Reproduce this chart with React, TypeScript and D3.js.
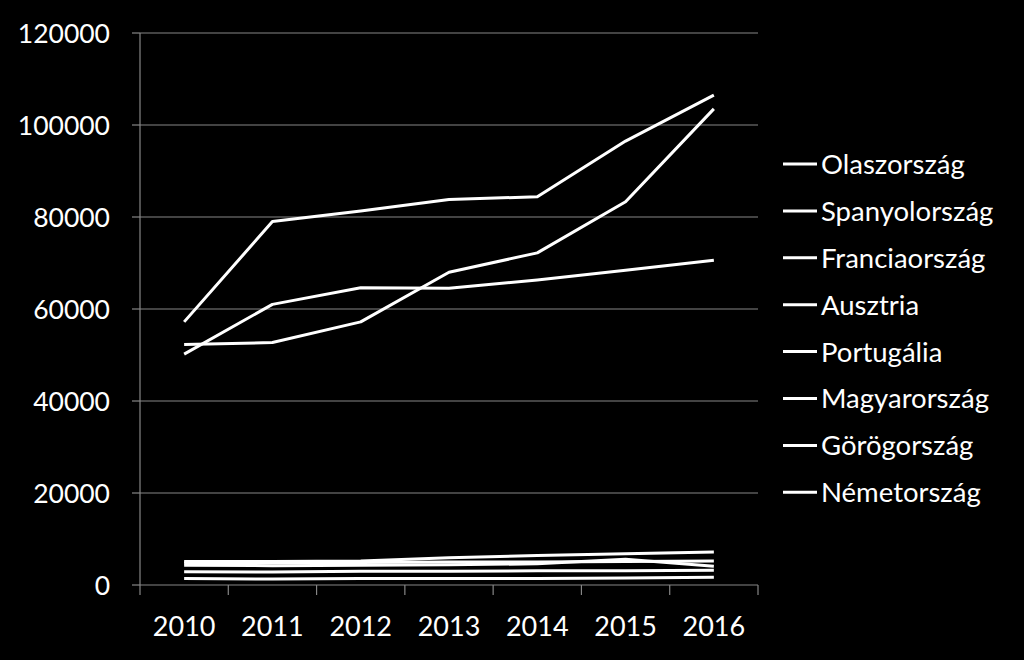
import React from "react";
import * as d3 from "d3";

const years = ["2010", "2011", "2012", "2013", "2014", "2015", "2016"];
const seriesNames = [
  "Olaszország",
  "Spanyolország",
  "Franciaország",
  "Ausztria",
  "Portugália",
  "Magyarország",
  "Görögország",
  "Németország",
];
const olasz = [57200, 79000, 81300, 83800, 84400, 96500, 106500];
const spanyol = [52300, 52700, 57200, 68000, 72200, 83300, 103500];
const francia = [50200, 61000, 64600, 64500, 66300, 68400, 70600];
const ausztria = [5100, 5100, 5200, 5900, 6400, 6800, 7200];
const portugalia = [4800, 4800, 4900, 5000, 5000, 5100, 5200];
const magyar = [4300, 4200, 4300, 4400, 4600, 5600, 4100];
const gorog = [2900, 2800, 3000, 3000, 3100, 3100, 3200];
const nemet = [1400, 1300, 1400, 1400, 1400, 1500, 1700];
const seriesValues = [olasz, spanyol, francia, ausztria, portugalia, magyar, gorog, nemet];
const yTicks = [0, 20000, 40000, 60000, 80000, 100000, 120000];

const W = 1024;
const H = 660;
const left = 140;
const right = 758;
const top = 33;
const bottom = 585;
const FONT = "Lato, 'Open Sans', sans-serif";
const GRID = "#868686";

export default function App() {
  const x = d3.scaleBand<string>().domain(years).range([left, right]);
  const y = d3.scaleLinear().domain([0, 120000]).range([bottom, top]);
  const line = d3
    .line<number>()
    .x((_, i) => (x(years[i]) as number) + x.bandwidth() / 2)
    .y((d) => y(d));

  const legendY0 = 164;
  const legendStep = 46.9;

  return (
    <svg
      width={W}
      height={H}
      style={{ position: "absolute", left: 0, top: 0, background: "#000" }}
    >
      <rect x={0} y={0} width={W} height={H} fill="#000" />
      {yTicks.map((t) => (
        <g key={t}>
          {t > 0 && (
            <line x1={left} x2={right} y1={y(t)} y2={y(t)} stroke={GRID} strokeWidth={1.2} />
          )}
          <line x1={left - 8} x2={left} y1={y(t)} y2={y(t)} stroke={GRID} strokeWidth={1.2} />
          <text
            x={110}
            y={y(t)}
            dy="0.36em"
            textAnchor="end"
            fill="#fff"
            fontFamily={FONT}
            fontSize={26.5}
          >
            {t}
          </text>
        </g>
      ))}
      <line x1={left} x2={left} y1={top} y2={bottom} stroke={GRID} strokeWidth={1.2} />
      <line x1={left} x2={right} y1={bottom} y2={bottom} stroke={GRID} strokeWidth={1.2} />
      {years.map((yr) => (
        <line
          key={"t" + yr}
          x1={x(yr) as number}
          x2={x(yr) as number}
          y1={bottom}
          y2={bottom + 10}
          stroke={GRID}
          strokeWidth={1.2}
        />
      ))}
      <line x1={right} x2={right} y1={bottom} y2={bottom + 10} stroke={GRID} strokeWidth={1.2} />
      {years.map((yr) => (
        <text
          key={yr}
          x={(x(yr) as number) + x.bandwidth() / 2}
          y={636}
          textAnchor="middle"
          fill="#fff"
          fontFamily={FONT}
          fontSize={27}
        >
          {yr}
        </text>
      ))}
      {seriesValues.map((vals, i) => (
        <path
          key={seriesNames[i]}
          d={line(vals) as string}
          fill="none"
          stroke="#fff"
          strokeWidth={3}
          strokeLinejoin="round"
        />
      ))}
      {seriesNames.map((name, i) => (
        <g key={"lg" + name} transform={`translate(0, ${legendY0 + i * legendStep})`}>
          <line x1={783} x2={817} y1={0} y2={0} stroke="#fff" strokeWidth={3} />
          <text x={821} y={0} dy="0.36em" fill="#fff" fontFamily={FONT} fontSize={27.5}>
            {name}
          </text>
        </g>
      ))}
    </svg>
  );
}
